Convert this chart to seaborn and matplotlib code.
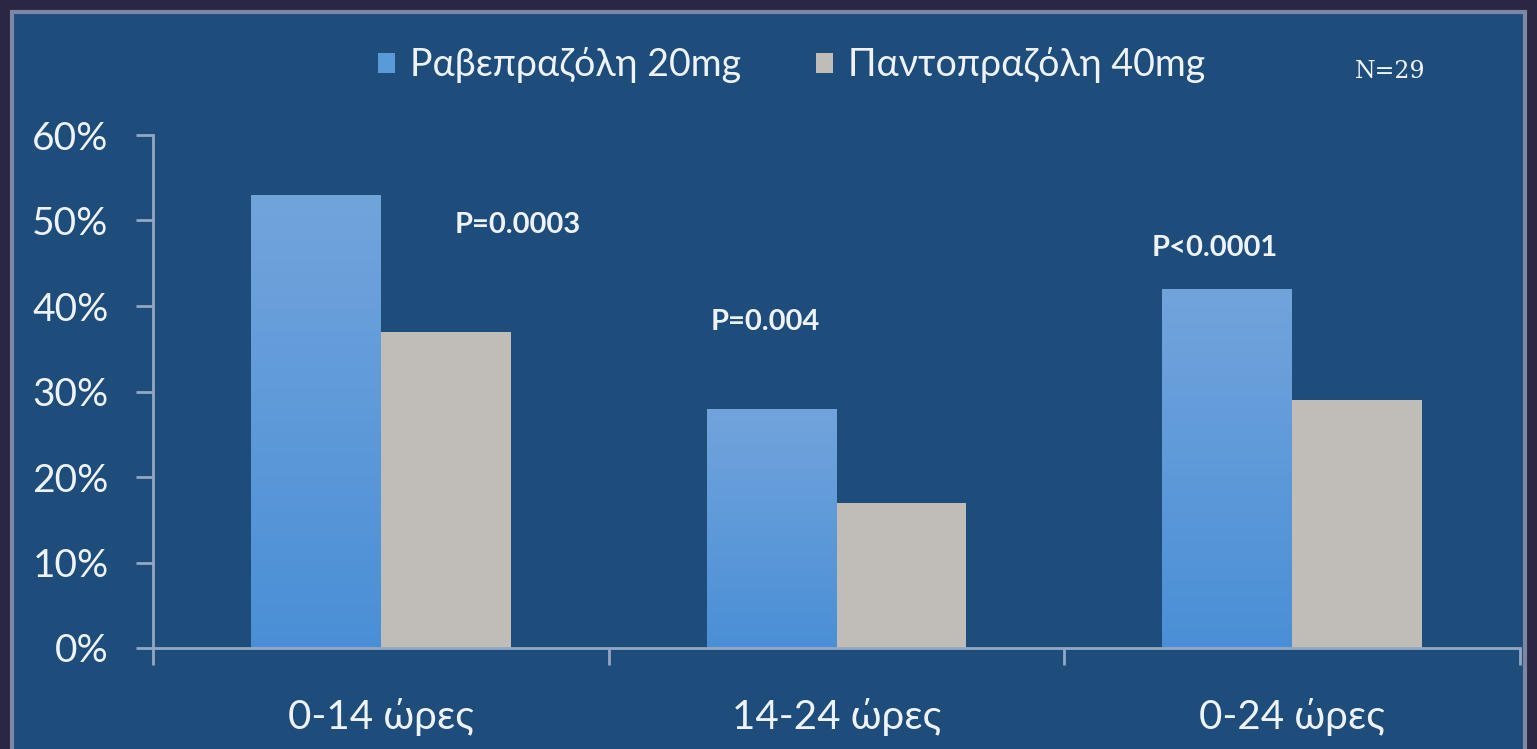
import numpy as np
import pandas as pd
import matplotlib
matplotlib.use("Agg")
import matplotlib.pyplot as plt
from matplotlib.patches import Rectangle, Patch
import seaborn as sns

# Percentage of time with intragastric pH > 4, by period
periods = ["0-14 ώρες", "14-24 ώρες", "0-24 ώρες"]
drugs = ["Ραβεπραζόλη 20mg", "Παντοπραζόλη 40mg"]
rabeprazole = [53, 28, 42]
pantoprazole = [37, 17, 29]
p_values = ["P=0.0003", "P=0.004", "P<0.0001"]
p_heights = [49.5, 38.1, 46.8]
p_offsets = [0.30, -0.157, -0.17]
y_ticks = [0, 10, 20, 30, 40, 50, 60]
sample_note = "N=29"

df = pd.DataFrame({
    "period": periods * 2,
    "drug": [drugs[0]] * 3 + [drugs[1]] * 3,
    "value": rabeprazole + pantoprazole,
})

sns.set_theme(style="white")
plt.rcParams["font.family"] = ["Lato", "Noto Sans", "DejaVu Sans"]

BG_OUTER = "#2b2641"
PANEL = "#1f4d7b"
FRAME = "#7d87a4"
AXIS = "#93a7c4"
TEXT = "#eef3fa"
BLUE = "#5b9ad9"
GREY = "#c0bcb7"

fig = plt.figure(figsize=(15.37, 7.49), dpi=100, facecolor=BG_OUTER)
fig.patches.append(Rectangle((12 / 1537, -0.05), 1513 / 1537, 1.05 - 12 / 749,
                             transform=fig.transFigure, facecolor=PANEL,
                             edgecolor=FRAME, linewidth=3, zorder=-5))

ax = fig.add_axes([153 / 1537, 1 - 648 / 749, (1520 - 153) / 1537, (648 - 135) / 749])
ax.set_facecolor("none")

sns.barplot(data=df, x="period", y="value", hue="drug", order=periods,
            hue_order=drugs, palette=[BLUE, GREY], width=0.57, dodge=True,
            saturation=1, ax=ax, legend=False, linewidth=0)

# vertical light-to-darker gradient on the blue bars
grad = np.linspace(0, 1, 256).reshape(-1, 1)
cmap = matplotlib.colors.LinearSegmentedColormap.from_list("bar", ["#4a8fd6", "#72a4dc"])
for patch in ax.patches[:3]:
    x0, y0 = patch.get_x(), patch.get_y()
    w, h = patch.get_width(), patch.get_height()
    im = ax.imshow(grad, cmap=cmap, aspect="auto", origin="lower",
                   extent=(x0, x0 + w, y0, y0 + h), zorder=patch.get_zorder() + 0.1)
    im.set_clip_path(patch)

ax.set_xlim(-0.5, 2.5)
ax.set_ylim(0, 60)
ax.set_yticks(y_ticks)
ax.set_yticklabels([f"{v}%" for v in y_ticks])

ax.set_xticks([-0.5, 0.5, 1.5, 2.5])
ax.set_xticklabels([])
ax.set_xticks([0, 1, 2], minor=True)
ax.set_xticklabels(periods, minor=True)
ax.tick_params(axis="x", which="major", bottom=True, direction="out", length=12,
               width=2, color=AXIS)
ax.tick_params(axis="x", which="minor", bottom=True, length=0, pad=36, labelsize=29,
               labelcolor=TEXT)
ax.tick_params(axis="y", left=True, direction="out", length=12, width=2, color=AXIS,
               pad=20, labelsize=28, labelcolor=TEXT)
ax.set_xlabel("")
ax.set_ylabel("")

for side in ["top", "right"]:
    ax.spines[side].set_visible(False)
for side in ["left", "bottom"]:
    ax.spines[side].set_color(AXIS)
    ax.spines[side].set_linewidth(2)

for i, (label, h, off) in enumerate(zip(p_values, p_heights, p_offsets)):
    ax.text(i + off, h, label, ha="center", va="center", color=TEXT,
            fontsize=21, fontweight="bold")

handles = [Patch(facecolor=BLUE, edgecolor="none"), Patch(facecolor=GREY, edgecolor="none")]
fig.legend(handles, drugs, loc="center", bbox_to_anchor=(792 / 1537, 1 - 65 / 749),
           ncol=2, frameon=False, fontsize=27, labelcolor=TEXT,
           handlelength=0.45, handleheight=0.45, handletextpad=0.4, columnspacing=2.0)

fig.text(1390 / 1537, 1 - 72 / 749, sample_note, ha="center", va="center",
         color=TEXT, fontsize=17, family=["DejaVu Serif"])

fig.savefig("out.png", dpi=100, facecolor=fig.get_facecolor())
